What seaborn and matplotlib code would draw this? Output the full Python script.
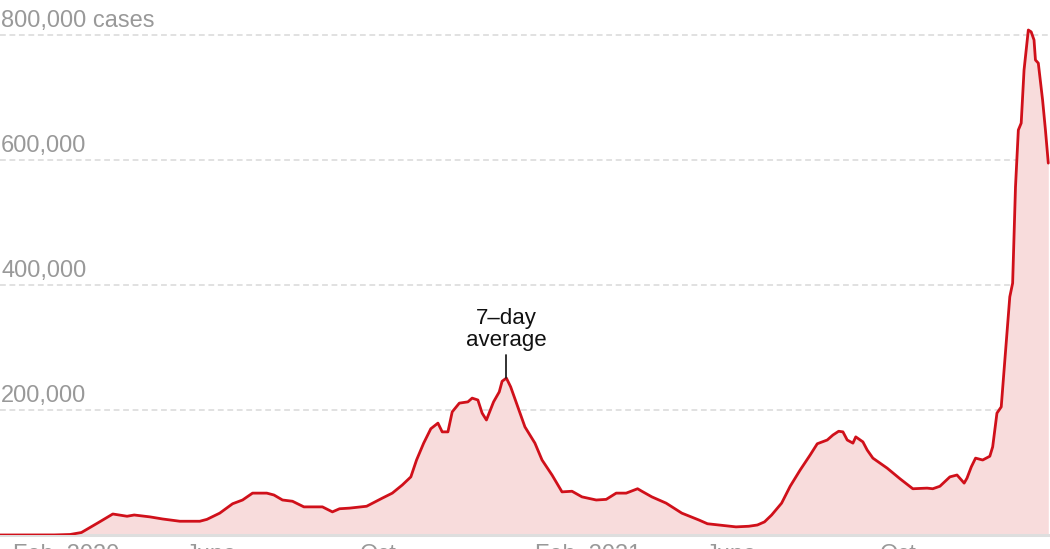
import matplotlib
matplotlib.use("Agg")
import matplotlib.pyplot as plt
import seaborn as sns
import pandas as pd

# ---- data ----
dates = [
    "2020-01-22", "2020-03-01", "2020-03-12", "2020-03-20", "2020-04-01", "2020-04-11",
    "2020-04-21", "2020-04-26", "2020-05-07", "2020-05-16", "2020-05-28", "2020-06-11",
    "2020-06-16", "2020-06-25", "2020-07-04", "2020-07-11", "2020-07-18", "2020-07-28",
    "2020-08-02", "2020-08-08", "2020-08-15", "2020-08-23", "2020-09-05", "2020-09-12",
    "2020-09-17", "2020-09-24", "2020-10-06", "2020-10-17", "2020-10-24", "2020-10-31",
    "2020-11-06", "2020-11-10", "2020-11-15", "2020-11-20", "2020-11-25", "2020-11-28",
    "2020-12-02", "2020-12-05", "2020-12-10", "2020-12-16", "2020-12-19", "2020-12-23",
    "2020-12-26", "2020-12-29", "2021-01-03", "2021-01-07", "2021-01-09", "2021-01-12",
    "2021-01-15", "2021-01-20", "2021-01-25", "2021-02-01", "2021-02-06", "2021-02-13",
    "2021-02-20", "2021-02-27", "2021-03-06", "2021-03-16", "2021-03-23", "2021-03-30",
    "2021-04-06", "2021-04-14", "2021-04-17", "2021-04-24", "2021-05-04", "2021-05-15",
    "2021-05-27", "2021-06-02", "2021-06-10", "2021-06-22", "2021-07-01", "2021-07-07",
    "2021-07-12", "2021-07-17", "2021-07-24", "2021-07-30", "2021-08-06", "2021-08-13",
    "2021-08-18", "2021-08-25", "2021-08-29", "2021-09-02", "2021-09-05", "2021-09-08",
    "2021-09-12", "2021-09-14", "2021-09-19", "2021-09-22", "2021-09-26", "2021-10-06",
    "2021-10-15", "2021-10-24", "2021-11-03", "2021-11-07", "2021-11-12", "2021-11-19",
    "2021-11-24", "2021-11-29", "2021-12-01", "2021-12-04", "2021-12-07", "2021-12-12",
    "2021-12-17", "2021-12-19", "2021-12-22", "2021-12-25", "2021-12-27", "2021-12-31",
    "2022-01-02", "2022-01-04", "2022-01-06", "2022-01-08", "2022-01-10", "2022-01-13",
    "2022-01-15", "2022-01-17", "2022-01-18", "2022-01-20", "2022-01-23", "2022-01-25",
    "2022-01-27",
]
cases = [
    0, 100, 800, 4000, 20000, 33600,
    30000, 32000, 29000, 25600, 22000, 22000,
    25000, 35000, 50000, 56000, 67000, 67000,
    64000, 56000, 54000, 45000, 45000, 37000,
    42000, 43000, 46000, 59000, 67000, 80000,
    93000, 120000, 147000, 170000, 179000, 165000,
    165000, 197000, 211000, 213000, 219000, 216000,
    195000, 184000, 213000, 229000, 246000, 251000,
    237000, 205000, 173000, 147000, 120000, 96000,
    69000, 70000, 61000, 56000, 57000, 67000,
    67000, 74000, 70000, 61000, 51000, 35000,
    24000, 18000, 16000, 13000, 14000, 16000,
    21000, 32000, 51000, 78000, 104000, 128000,
    146000, 152000, 160000, 166000, 165000, 152000,
    147000, 157000, 149000, 136000, 123000, 107000,
    90000, 74000, 75000, 74000, 78000, 93000,
    96000, 83000, 91000, 109000, 123000, 120000,
    126000, 141000, 195000, 205000, 264000, 381000,
    403000, 557000, 648000, 659000, 744000, 808000,
    805000, 792000, 760000, 755000, 696000, 648000,
    595000,
]
y_ticks = [200000, 400000, 600000, 800000]
y_labels = ["200,000", "400,000", "600,000", "800,000 cases"]
x_ticks = ["2020-02-01", "2020-06-01", "2020-10-01", "2021-02-01", "2021-06-01", "2021-10-01"]
x_labels = ["Feb. 2020", "June", "Oct.", "Feb. 2021", "June", "Oct."]
annot_date = "2021-01-12"
annot_value = 251000

df = pd.DataFrame({"date": pd.to_datetime(dates), "cases": cases})

sns.set_theme(style="white")
plt.rcParams["font.family"] = ["Liberation Sans", "DejaVu Sans"]

W, H = 1050, 549
fig = plt.figure(figsize=(W / 100, H / 100), dpi=100)
ax = fig.add_axes([0, 14 / H, 1, 535 / H])

RED = "#d0101a"
FILL = "#f8dcdc"

ax.fill_between(df["date"], 0, df["cases"], color=FILL, lw=0, zorder=1)
sns.lineplot(data=df, x="date", y="cases", ax=ax, color=RED, lw=2.0, zorder=3)

t0 = pd.Timestamp("2020-02-01")
ax.set_xlim(t0 - pd.Timedelta(days=9.1), t0 + pd.Timedelta(days=727.2))
ax.set_ylim(0, 856000)

for s in ax.spines.values():
    s.set_visible(False)
ax.set_xticks([])
ax.set_yticks([])
ax.set_xlabel("")
ax.set_ylabel("")

for v, lab in zip(y_ticks, y_labels):
    ax.axhline(v, color="#d9d9d9", lw=1.1, linestyle=(0, (3.8, 2.4)), zorder=0)
    ax.annotate(lab, xy=(0, v), xycoords=("axes fraction", "data"),
                xytext=(1, 8), textcoords="offset pixels",
                ha="left", va="baseline", fontsize=17, color="#999999")

ax.axhline(0, color="#dedede", lw=2.2, zorder=2, clip_on=False)

for d, lab in zip(x_ticks, x_labels):
    ax.annotate(lab, xy=(pd.Timestamp(d), 0), xycoords=("data", "axes fraction"),
                xytext=(0, -9), textcoords="offset pixels",
                ha="left", va="top", fontsize=17, color="#999999",
                annotation_clip=False)

ad = pd.Timestamp(annot_date)
ax.plot([ad, ad], [annot_value + 1000, 288000], color="#222222", lw=1.3, zorder=4)
ax.text(ad, 294000, "7–day\naverage", ha="center", va="bottom",
        fontsize=16, color="#111111", linespacing=1.05)

fig.savefig("out.png", dpi=100)
